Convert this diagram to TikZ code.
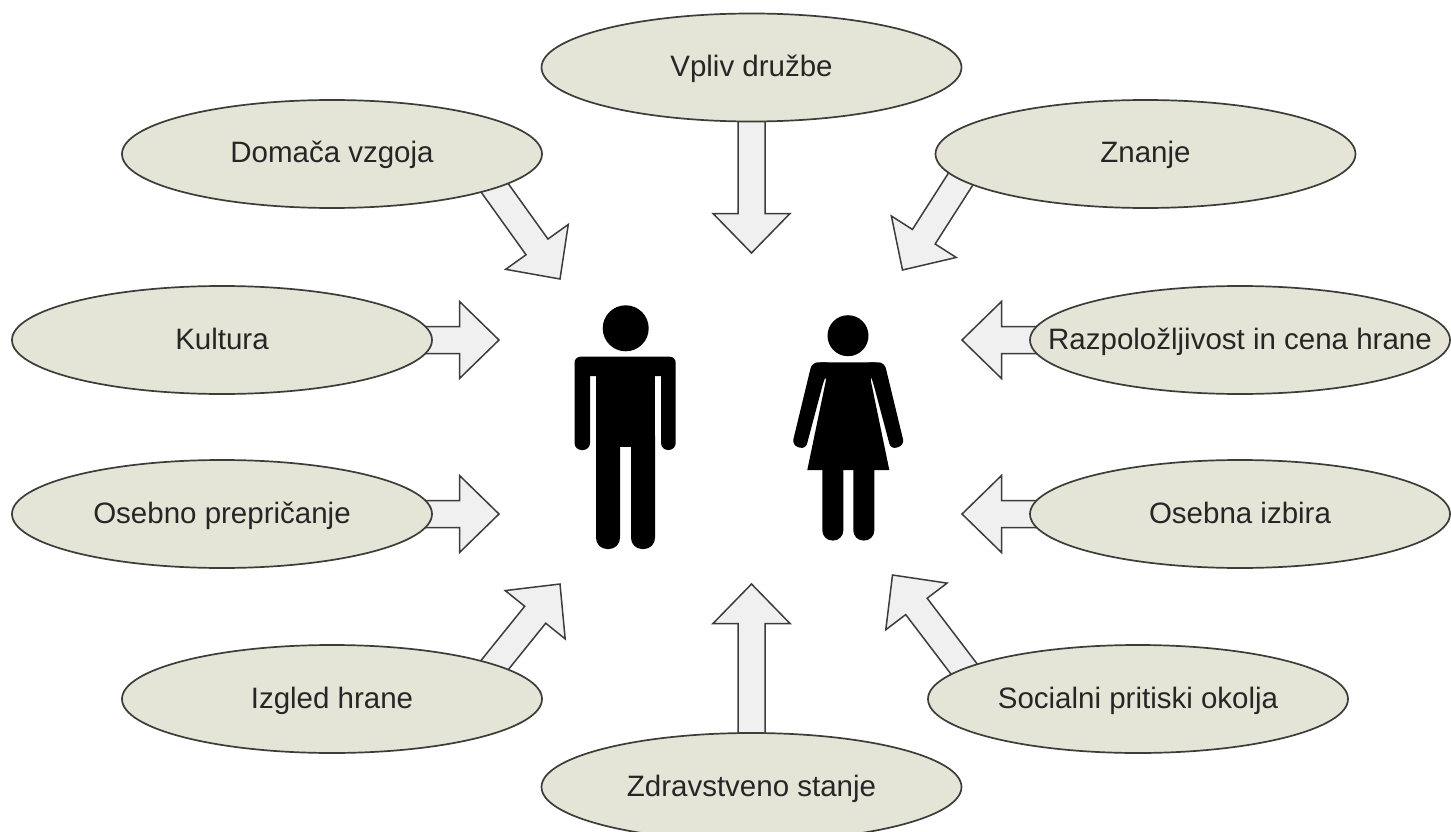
\documentclass[tikz,border=0pt]{standalone}
\usepackage{fontspec}
\setmainfont{Liberation Sans}
\usetikzlibrary{shapes.geometric,calc,backgrounds}
\definecolor{ellfill}{HTML}{E4E5D6}
\definecolor{arrfill}{HTML}{F0F0F0}
\definecolor{edge}{HTML}{3C3C38}
\tikzset{
  oval/.style={ellipse,draw=edge,fill=ellfill,line width=1.7pt,minimum width=420pt,minimum height=108pt,inner sep=-70pt,text=black!85,text height=24pt,text depth=6pt,font=\fontsize{29.5}{34}\selectfont},
  blockarrow/.style={draw=edge,fill=arrfill,line width=1.5pt,line join=miter},
  figure/.style={fill=black,draw=none}
}
% #1 start on the node, #2 tip
\newcommand\blockconn[2]{%
  \begin{pgfonlayer}{background}
  \coordinate (S') at ($(#1)!-30pt!(#2)$);
  \coordinate (B') at ($(#2)!39.5pt!(#1)$);
  \draw[blockarrow] ($(S')!13.5pt!90:(#2)$) -- ($(B')!13.5pt!90:(#2)$) -- ($(B')!38.5pt!90:(#2)$) -- (#2) -- ($(B')!38.5pt!-90:(#2)$) -- ($(B')!13.5pt!-90:(#2)$) -- ($(S')!13.5pt!-90:(#2)$) -- cycle;
  \end{pgfonlayer}%
}
\begin{document}
\begin{tikzpicture}[x=1pt,y=-1pt]
\useasboundingbox (0,0) rectangle (1451,832);
\node[oval] (vpliv) at (751.5,67.5) {Vpliv družbe};
\node[oval] (domaca) at (332,154) {Domača vzgoja};
\node[oval] (znanje) at (1145.5,154) {Znanje};
\node[oval] (kultura) at (222,340) {Kultura};
\node[oval] (razp) at (1240,340) {Razpoložljivost in cena hrane};
\node[oval] (osebno) at (222,514) {Osebno prepričanje};
\node[oval] (izbira) at (1240,514) {Osebna izbira};
\node[oval] (izgled) at (332,699) {Izgled hrane};
\node[oval] (social) at (1138,699) {Socialni pritiski okolja};
\node[oval] (zdrav) at (751.5,787) {Zdravstveno stanje};
\coordinate (tdomaca) at (560,279);
\coordinate (tvpliv) at (751.5,253);
\coordinate (tznanje) at (902.5,270);
\coordinate (tkultura) at (499,340);
\coordinate (trazp) at (962,340);
\coordinate (tosebno) at (499,514);
\coordinate (tizbira) at (962,514);
\coordinate (tizgled) at (560,584);
\coordinate (tsocial) at (892.5,575);
\coordinate (tzdrav) at (751.5,584);
\blockconn{domaca.-12.7}{tdomaca}
\blockconn{vpliv.south}{tvpliv}
\blockconn{znanje.188.2}{tznanje}
\blockconn{kultura.east}{tkultura}
\blockconn{razp.west}{trazp}
\blockconn{osebno.east}{tosebno}
\blockconn{izbira.west}{tizbira}
\blockconn{izgled.12}{tizgled}
\blockconn{social.170.7}{tsocial}
\blockconn{zdrav.north}{tzdrav}
% man
\node[circle,figure,minimum size=46pt,inner sep=0pt] (manhead) at (625.7,328.3) {};
\fill[rounded corners=6pt] (574.5,356.7) rectangle (675.7,376);
\fill[rounded corners=7pt] (574.5,366) rectangle (590,450);
\fill[rounded corners=7pt] (661,366) rectangle (675.7,450);
\fill (596,366) rectangle (655,447);
\fill[rounded corners=11pt] (596,425) rectangle (620,549);
\fill[rounded corners=11pt] (631,425) rectangle (655,549);
% woman
\node[circle,figure,minimum size=41pt,inner sep=0pt] (womanhead) at (848,335.7) {};
\fill[rounded corners=6pt] (812,362.3) -- (832,362.3) -- (824,380) -- (805.5,449.5) -- (792,445) -- cycle;
\fill[rounded corners=6pt] (884.4,362.3) -- (864.4,362.3) -- (872.4,380) -- (890.9,449.5) -- (904.4,445) -- cycle;
\fill (820,362.3) -- (876,362.3) -- (870.7,380) -- (889.3,470) -- (807.3,470) -- (826,380) -- cycle;
\fill[rounded corners=10pt] (822.3,455) rectangle (843.3,540.5);
\fill[rounded corners=10pt] (853.3,455) rectangle (874.3,540.5);
\end{tikzpicture}
\end{document}
